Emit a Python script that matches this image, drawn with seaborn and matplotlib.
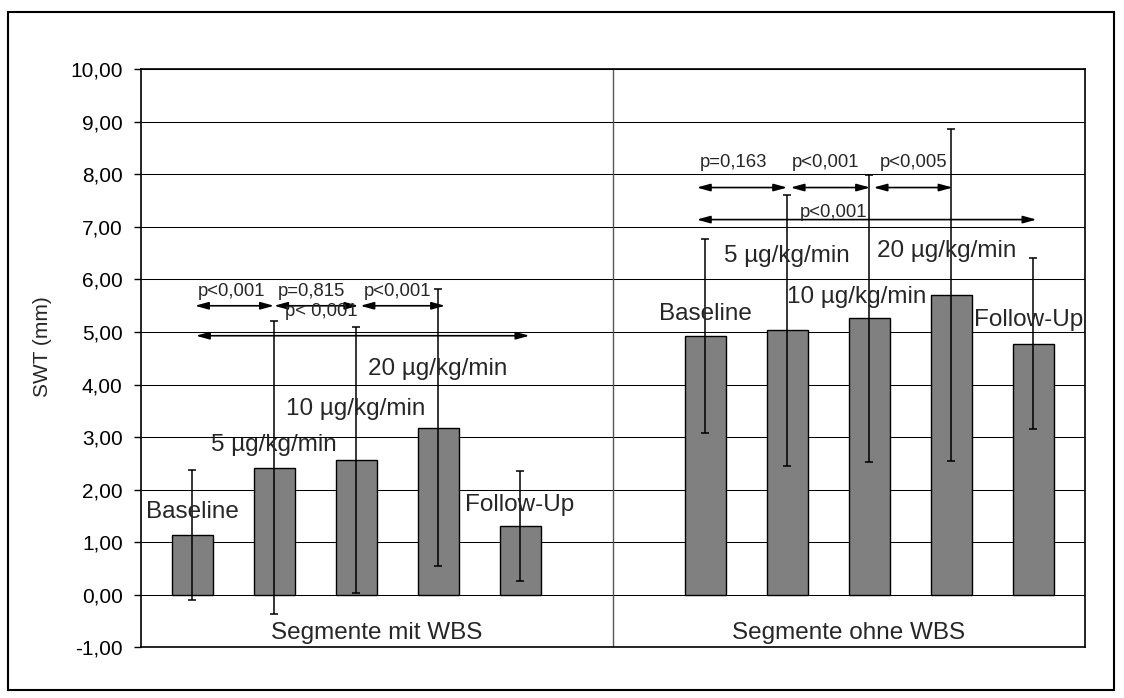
import numpy as np
import pandas as pd
import matplotlib
matplotlib.use("Agg")
import matplotlib.pyplot as plt
from matplotlib.ticker import FuncFormatter
from matplotlib.patches import Rectangle
import seaborn as sns

# ---- data ---------------------------------------------------------------
groups = ["Segmente mit WBS", "Segmente ohne WBS"]
conditions = ["Baseline", "5 µg/kg/min", "10 µg/kg/min", "20 µg/kg/min", "Follow-Up"]

mean_mit = [1.14, 2.42, 2.57, 3.18, 1.31]
sd_mit = [1.23, 2.79, 2.53, 2.64, 1.05]

mean_ohne = [4.92, 5.03, 5.26, 5.71, 4.78]
sd_ohne = [1.85, 2.58, 2.73, 3.16, 1.62]

# pairwise comparisons (index from, index to, p label)
pairs_mit = [(0, 1, "p<0,001"), (1, 2, "p=0,815"), (2, 3, "p<0,001"), (0, 4, "p< 0,001")]
pairs_ohne = [(0, 1, "p=0,163"), (1, 2, "p<0,001"), (2, 3, "p<0,005"), (0, 4, "p<0,001")]

y_ticks = np.arange(-1, 11, 1)

# ---- layout -------------------------------------------------------------
spacing = 0.1737          # distance between neighbouring bars (group = 1 unit)
group_start = [0.1087, 0.1956]
bar_width_rel = 0.5

# baseline height of the condition labels
label_y = [[1.46, 2.73, 3.43, 4.19, 1.60],
           [5.23, 6.34, 5.55, 6.42, 5.11]]
label_dx = [[0, 0, 0, 0, 0],
            [0, 0, -0.026, -0.009, -0.010]]

# comparison arrows: heights, nudges of the arrow ends, text offsets
arrow_y = [[5.50, 5.50, 5.50, 4.93], [7.75, 7.75, 7.75, 7.14]]
arrow_nudge = [[(0.006, 0.0), (0.0, 0.005), (0.009, 0.015), (0.008, 0.020)],
               [(-0.018, 0.0), (0.007, 0.002), (0.009, 0.003), (-0.018, 0.007)]]
ptext_y = [[5.68, 5.68, 5.68, 5.30], [8.15, 8.15, 8.15, 7.19]]
ptext_dx = [[-0.007, -0.011, -0.011, -0.088], [-0.018, -0.010, 0.002, -0.070]]

# ---- frame ---------------------------------------------------------------
rows = []
for g, (means, sds) in enumerate([(mean_mit, sd_mit), (mean_ohne, sd_ohne)]):
    for i, (c, m, s) in enumerate(zip(conditions, means, sds)):
        rows.append({"group": groups[g], "condition": c, "mean": m, "sd": s,
                     "pos": g + group_start[g] + i * spacing, "gi": g, "ci": i})
df = pd.DataFrame(rows)

sns.set_style("white")
plt.rcParams["font.family"] = ["Liberation Sans", "DejaVu Sans"]

fig = plt.figure(figsize=(11.24, 6.98), dpi=100)
ax = fig.add_axes([0.1252, 0.0726, 0.8401, 0.8281])

sns.barplot(data=df, x="pos", y="mean", native_scale=True, width=bar_width_rel,
            color="#808080", saturation=1, edgecolor="black", linewidth=1.0,
            errorbar=None, ax=ax, zorder=2)

ax.errorbar(df["pos"], df["mean"], yerr=df["sd"], fmt="none", ecolor="black",
            elinewidth=1.1, capsize=3, capthick=1.1, zorder=3)

# axes
ax.set_xlim(0, 2)
ax.set_ylim(-1, 10)
ax.set_yticks(y_ticks)
ax.yaxis.set_major_formatter(FuncFormatter(lambda v, _: f"{v:.2f}".replace(".", ",")))
ax.set_xticks([])
ax.set_xlabel("")
ax.set_ylabel("SWT (mm)", fontsize=15)
ax.yaxis.set_label_coords(-0.094, 0.52)
ax.tick_params(axis="y", which="major", direction="out", length=5, width=1.0,
               labelsize=15, pad=8, left=True, colors="black")
ax.set_axisbelow(True)
ax.grid(axis="y", color="black", linewidth=0.75)
ax.axvline(1, color="#555555", linewidth=1.0, zorder=1)
for sp in ax.spines.values():
    sp.set_visible(True)
    sp.set_color("black")
    sp.set_linewidth(1.2)

# category labels under the zero line
for g, name in enumerate(groups):
    ax.text(g + 0.5, -0.843, name, ha="center", va="baseline", fontsize=17.5)

# condition labels above bars
for _, r in df.iterrows():
    g, i = int(r["gi"]), int(r["ci"])
    ax.text(r["pos"] + label_dx[g][i], label_y[g][i], r["condition"], ha="center",
            va="baseline", fontsize=17.5, clip_on=True, zorder=4)

# comparison arrows with p values
for g, pairs in enumerate([pairs_mit, pairs_ohne]):
    pos = df.loc[df["gi"] == g, "pos"].to_numpy()
    for k, (a, b, lab) in enumerate(pairs):
        x0 = pos[a] + arrow_nudge[g][k][0]
        x1 = pos[b] + arrow_nudge[g][k][1]
        y = arrow_y[g][k]
        ax.annotate("", xy=(x1, y), xytext=(x0, y),
                    arrowprops=dict(arrowstyle="<|-|>,head_length=0.8,head_width=0.22",
                                    mutation_scale=10, color="black", lw=1.2,
                                    shrinkA=0, shrinkB=0), zorder=5)
        ax.text((x0 + x1) / 2 + ptext_dx[g][k], ptext_y[g][k], lab, ha="center",
                va="baseline", fontsize=13.3, zorder=5)

# outer border of the figure
fig.patches.append(Rectangle((8 / 1124, 1 - 690 / 698), (1114 - 8) / 1124,
                             (690 - 12) / 698, transform=fig.transFigure,
                             fill=False, edgecolor="black", linewidth=1.5))

fig.savefig("out.png", dpi=100)
